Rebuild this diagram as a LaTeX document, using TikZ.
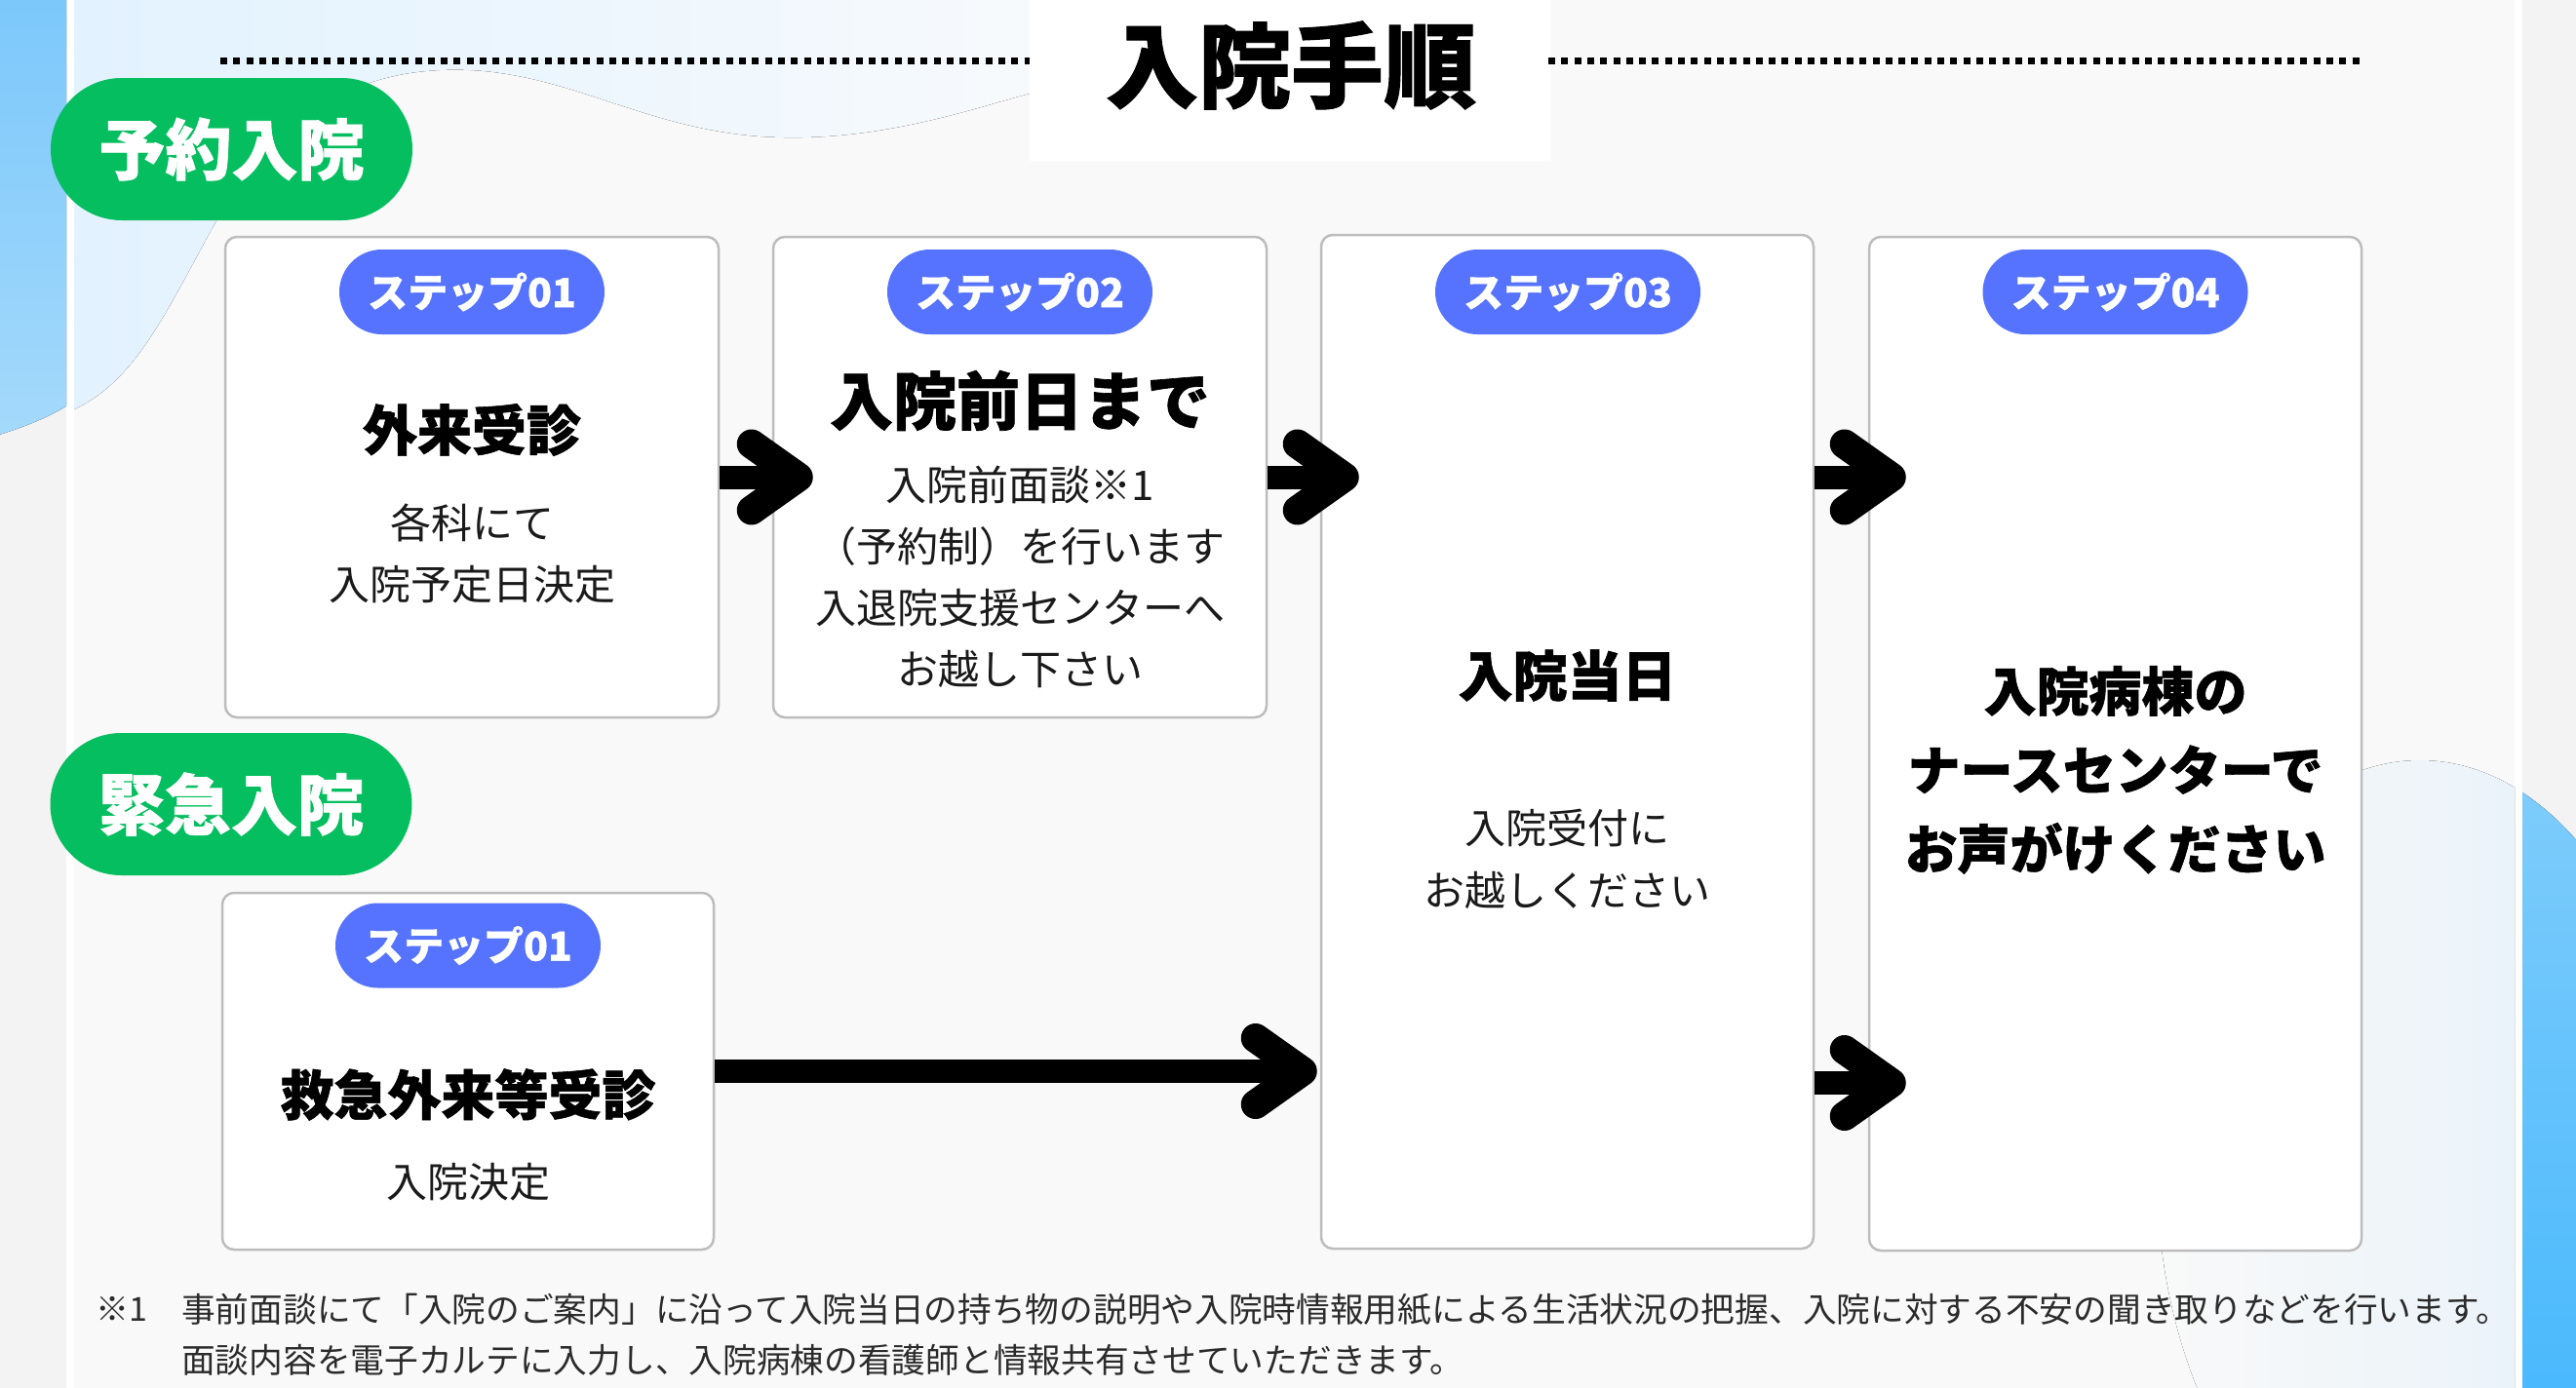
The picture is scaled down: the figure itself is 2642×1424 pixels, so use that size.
\documentclass[tikz,border=0pt]{standalone}
\usepackage{fontspec}
\setmainfont{Noto Sans CJK JP}[BoldFeatures={FakeBold=1}]
\usetikzlibrary{calc}
\definecolor{grn}{HTML}{05BE5F}
\definecolor{pillblue}{HTML}{5573FF}
\definecolor{boxgray}{HTML}{BDBDBD}
\definecolor{panelbg}{HTML}{F9F9F9}
\definecolor{stripbg}{HTML}{F3F3F3}
\definecolor{txt}{HTML}{1A1A1A}
\definecolor{fntxt}{HTML}{2B2B2B}
\definecolor{lblueA}{HTML}{E2F2FE}
\definecolor{lblueB}{HTML}{F7FAFD}
\definecolor{lblueC}{HTML}{E4F0FA}
\definecolor{sblueA}{HTML}{7CC8FB}
\definecolor{sblueB}{HTML}{A4D9FB}
\definecolor{rblueA}{HTML}{80CDFB}
\definecolor{rblueB}{HTML}{3AB3FD}
\tikzset{
 stepbox/.style={draw=boxgray, line width=2.5pt, fill=white, rounded corners=12pt, inner sep=0pt},
 greenpill/.style={fill=grn, rounded corners=73pt, minimum width=371pt, minimum height=146pt, inner sep=0pt, text=white, font=\fontsize{68pt}{68pt}\selectfont\bfseries},
 bluepill/.style={fill=pillblue, rounded corners=43.5pt, minimum width=272pt, minimum height=87pt, inner sep=0pt, text=white, font=\fontsize{41pt}{41pt}\selectfont\bfseries},
 headtxt/.style={inner sep=0pt, text=black, font=\fontsize{56pt}{56pt}\selectfont\bfseries, align=center},
 bodytxt/.style={inner sep=0pt, text=txt, font=\fontsize{42pt}{63pt}\selectfont, align=center},
 shaft/.style={line width=24pt},
 chev/.style={line width=30pt, line cap=round, line join=round},
 dotline/.style={line width=7pt, dash pattern=on 7pt off 6.3pt},
}
\newcommand\chevat[1]{\draw[chev] ($(#1)+(-48,-34)$) -- (#1) -- ($(#1)+(-48,34)$);}
\begin{document}
\begin{tikzpicture}[x=1pt,y=-1pt]
\useasboundingbox (0,0) rectangle (2642,1424);
% ---------- background ----------
\fill[stripbg] (0,0) rectangle (2642,1424);
\fill[white] (68,0) rectangle (2587,1424);
\fill[panelbg] (76,0) rectangle (2579,1424);
\begin{scope}
 \clip (0,0) rectangle (68,1424);
 \fill[top color=sblueA, bottom color=sblueB] (-1,-1) -- (-1,446) .. controls (25,438) and (50,428) .. (69,416) -- (69,-1) -- cycle;
\end{scope}
\begin{scope}
 \clip (76,0) rectangle (2579,1424);
 \fill[left color=lblueA, right color=lblueB] (76,-1) -- (76,420) .. controls (140,390) and (170,320) .. (220,230) .. controls (270,140) and (330,90) .. (420,75) .. controls (560,55) and (640,130) .. (780,140) .. controls (900,148) and (1000,110) .. (1060,95) -- (1060,-1) -- cycle;
 \fill[left color=panelbg, right color=lblueC] (2482,1200) ellipse [x radius=270, y radius=420];
\end{scope}
\begin{scope}
 \clip (2587,0) rectangle (2642,1424);
 \fill[top color=rblueA, bottom color=rblueB] (2482,1200) ellipse [x radius=270, y radius=420];
\end{scope}
% ---------- title ----------
\fill[white] (1056,-1) rectangle (1590,165);
\draw[dotline] (226,62) -- (1056,62);
\draw[dotline] (1588,62) -- (2420,62);
\node[inner sep=0pt, font=\fontsize{95pt}{95pt}\selectfont\bfseries] (title) at (1324,67) {入院手順};
% ---------- category pills ----------
\node[greenpill] (g1) at (237.5,153) {予約入院};
\node[greenpill] (g2) at (237,825) {緊急入院};
% ---------- step boxes ----------
\node[stepbox, minimum width=506pt, minimum height=493pt] (b1) at (484,489.5) {};
\node[stepbox, minimum width=506pt, minimum height=493pt] (b2) at (1046,489.5) {};
\node[stepbox, minimum width=505pt, minimum height=1040pt] (b3) at (1607.5,761) {};
\node[stepbox, minimum width=505pt, minimum height=1040pt] (b4) at (2169.5,763) {};
\node[stepbox, minimum width=504pt, minimum height=366pt] (b5) at (480,1099) {};
% ---------- step pills ----------
\node[bluepill] (p1) at (484,299.5) {ステップ01};
\node[bluepill] (p2) at (1046,299.5) {ステップ02};
\node[bluepill] (p3) at (1608,299.5) {ステップ03};
\node[bluepill] (p4) at (2169.5,299.5) {ステップ04};
\node[bluepill] (p5) at (480,970) {ステップ01};
% ---------- texts ----------
\node[headtxt] (h1) at (484,441) {外来受診};
\node[bodytxt] (d1) at (484,567.5) {各科にて\\入院予定日決定};
\node[headtxt, font=\fontsize{65pt}{65pt}\selectfont\bfseries] (h2) at (1046,411) {入院前日まで};
\node[bodytxt] (d2) at (1046,591.5) {入院前面談※1\\（予約制）を行います\\入退院支援センターへ\\お越し下さい};
\node[headtxt] (h3) at (1607.5,693) {入院当日};
\node[bodytxt, font=\fontsize{42pt}{64pt}\selectfont] (d3) at (1607.5,881) {入院受付に\\お越しください};
\node[headtxt, font=\fontsize{54pt}{81pt}\selectfont\bfseries] (h4) at (2169.5,790) {入院病棟の\\ナースセンターで\\お声がけください};
\node[headtxt, font=\fontsize{55pt}{55pt}\selectfont\bfseries] (h5) at (480,1123) {救急外来等受診};
\node[bodytxt] (d5) at (480,1213) {入院決定};
% ---------- arrows ----------
\coordinate (y4) at (0,1111);
\coordinate (t1) at ($(b1.east -| b2.west)+(27,0)$);
\coordinate (t2) at ($(b2.east -| b3.west)+(25,0)$);
\coordinate (t3) at ($(b2.east -| b4.west)+(24,0)$);
\coordinate (t4) at ($(b4.west |- y4)+(24,0)$);
\coordinate (t5) at ($(b5.east -| b3.west)+(-18,0)$);
\draw[shaft] (b1.east) -- (t1); \chevat{t1}
\draw[shaft] (b2.east) -- (t2); \chevat{t2}
\draw[shaft] (b2.east -| b3.east) -- (t3); \chevat{t3}
\draw[shaft] (b3.east |- y4) -- (t4); \chevat{t4}
\draw[shaft] (b5.east) -- (t5); \chevat{t5}
% ---------- footnote ----------
\node[inner sep=0pt, anchor=west, text=fntxt, font=\fontsize{34pt}{52pt}\selectfont] (fn1) at (98,1343) {※1};
\node[inner sep=0pt, anchor=west, align=left, text=fntxt, font=\fontsize{34.7pt}{52pt}\selectfont] (fn2) at (186,1369) {事前面談にて「入院のご案内」に沿って入院当日の持ち物の説明や入院時情報用紙による生活状況の把握、入院に対する不安の聞き取りなどを行います。\\面談内容を電子カルテに入力し、入院病棟の看護師と情報共有させていただきます。};
\end{tikzpicture}
\end{document}
